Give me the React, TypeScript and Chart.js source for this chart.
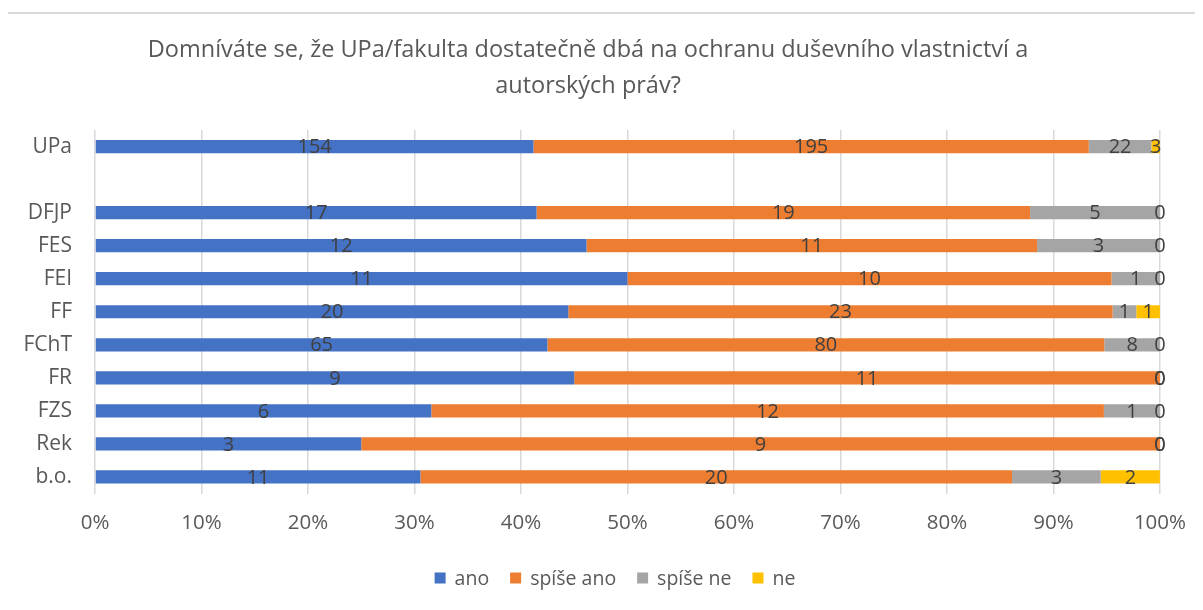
import React, { useEffect, useRef } from "react";
import { Chart, registerables } from "chart.js";

Chart.register(...registerables);

const TITLE_LINES = [
  "Domníváte se, že UPa/fakulta dostatečně dbá na ochranu duševního vlastnictví a",
  "autorských práv?",
];
const CATEGORIES = ["UPa", "", "DFJP", "FES", "FEI", "FF", "FChT", "FR", "FZS", "Rek", "b.o."];
const SERIES_NAMES = ["ano", "spíše ano", "spíše ne", "ne"];
const ANO = [154, null, 17, 12, 11, 20, 65, 9, 6, 3, 11];
const SPISE_ANO = [195, null, 19, 11, 10, 23, 80, 11, 12, 9, 20];
const SPISE_NE = [22, null, 5, 3, 1, 1, 8, 0, 1, 0, 3];
const NE = [3, null, 0, 0, 0, 1, 0, 0, 0, 0, 2];
const X_TICKS = [0, 10, 20, 30, 40, 50, 60, 70, 80, 90, 100];
const COLORS = ["#4472C4", "#ED7D31", "#A5A5A5", "#FFC000"];

const FONT = "'Open Sans', 'Noto Sans', sans-serif";
const TEXT_COLOR = "#595959";
const LABEL_COLOR = "#404040";

export default function App() {
  const ref = useRef<HTMLCanvasElement | null>(null);

  useEffect(() => {
    if (!ref.current) return;
    const counts = [ANO, SPISE_ANO, SPISE_NE, NE];
    const totals = CATEGORIES.map((_, i) =>
      counts.reduce((s, arr) => s + (arr[i] == null ? 0 : (arr[i] as number)), 0)
    );
    const datasets = counts.map((arr, k) => ({
      label: SERIES_NAMES[k],
      data: arr.map((v, i) => (v == null || totals[i] === 0 ? null : ((v as number) / totals[i]) * 100)),
      backgroundColor: COLORS[k],
      borderWidth: 0,
      categoryPercentage: 1,
      barPercentage: 0.4,
    }));

    const labelPlugin = {
      id: "valueLabels",
      afterDatasetsDraw(chart: any) {
        const ctx = chart.ctx;
        ctx.save();
        ctx.font = `20px ${FONT}`;
        ctx.fillStyle = LABEL_COLOR;
        ctx.textAlign = "center";
        ctx.textBaseline = "middle";
        chart.data.datasets.forEach((ds: any, k: number) => {
          const meta = chart.getDatasetMeta(k);
          meta.data.forEach((el: any, i: number) => {
            const v = counts[k][i];
            if (v == null) return;
            const cx = (el.x + el.base) / 2;
            ctx.fillText(String(v), cx, el.y + 1);
          });
        });
        ctx.restore();
      },
    };

    const titleLegendPlugin = {
      id: "titleLegend",
      afterDraw(chart: any) {
        const ctx = chart.ctx;
        ctx.save();
        ctx.fillStyle = TEXT_COLOR;
        ctx.font = `23.5px ${FONT}`;
        ctx.textAlign = "center";
        ctx.textBaseline = "middle";
        ctx.fillText(TITLE_LINES[0], 588, 50);
        ctx.fillText(TITLE_LINES[1], 588, 86);

        // legend
        ctx.font = `19.5px ${FONT}`;
        const box = 11;
        const gapBoxText = 9;
        const gapItems = 21;
        const widths = SERIES_NAMES.map((n) => box + gapBoxText + ctx.measureText(n).width);
        const total = widths.reduce((a, b) => a + b, 0) + gapItems * (SERIES_NAMES.length - 1);
        let x = 615 - total / 2;
        const y = 578;
        ctx.textAlign = "left";
        SERIES_NAMES.forEach((n, k) => {
          ctx.fillStyle = COLORS[k];
          ctx.fillRect(x, y - box / 2, box, box);
          ctx.fillStyle = TEXT_COLOR;
          ctx.fillText(n, x + box + gapBoxText, y + 1);
          x += widths[k] + gapItems;
        });
        ctx.restore();
      },
    };

    const chart = new Chart(ref.current, {
      type: "bar",
      data: { labels: CATEGORIES, datasets: datasets as any },
      options: {
        indexAxis: "y",
        animation: false,
        responsive: false,
        maintainAspectRatio: false,
        layout: { padding: { top: 130, left: 0, right: 43, bottom: 76.5 } },
        plugins: {
          legend: { display: false },
          title: { display: false },
          tooltip: { enabled: false },
        },
        scales: {
          x: {
            stacked: true,
            min: 0,
            max: 100,
            afterBuildTicks: (scale: any) => {
              scale.ticks = X_TICKS.map((v) => ({ value: v }));
            },
            afterFit: (scale: any) => {
              scale.height = 40;
            },
            grid: { color: "#d9d9d9", lineWidth: 1.5, drawTicks: false },
            border: { display: false },
            ticks: {
              padding: 17,
              color: TEXT_COLOR,
              font: { family: FONT, size: 20.5 },
              callback: (v: any) => `${v}%`,
            },
          },
          y: {
            stacked: true,
            afterFit: (scale: any) => {
              scale.width = 95;
            },
            grid: { display: false, drawTicks: false },
            border: { display: false },
            ticks: {
              padding: 23,
              color: TEXT_COLOR,
              font: { family: FONT, size: 21 },
              autoSkip: false,
            },
          },
        },
      },
      plugins: [labelPlugin, titleLegendPlugin],
    });
    return () => chart.destroy();
  }, []);

  return (
    <div
      style={{
        position: "relative",
        width: 1203,
        height: 610,
        margin: -8,
        overflow: "hidden",
        background: "#fff",
      }}
    >
      <div
        style={{
          position: "absolute",
          left: 6,
          top: 12,
          width: 1400,
          height: 800,
          border: "2px solid #d9d9d9",
        }}
      />
      <canvas
        ref={ref}
        width={1203}
        height={610}
        style={{ position: "absolute", left: 0, top: 0, width: 1203, height: 610 }}
      />
    </div>
  );
}
